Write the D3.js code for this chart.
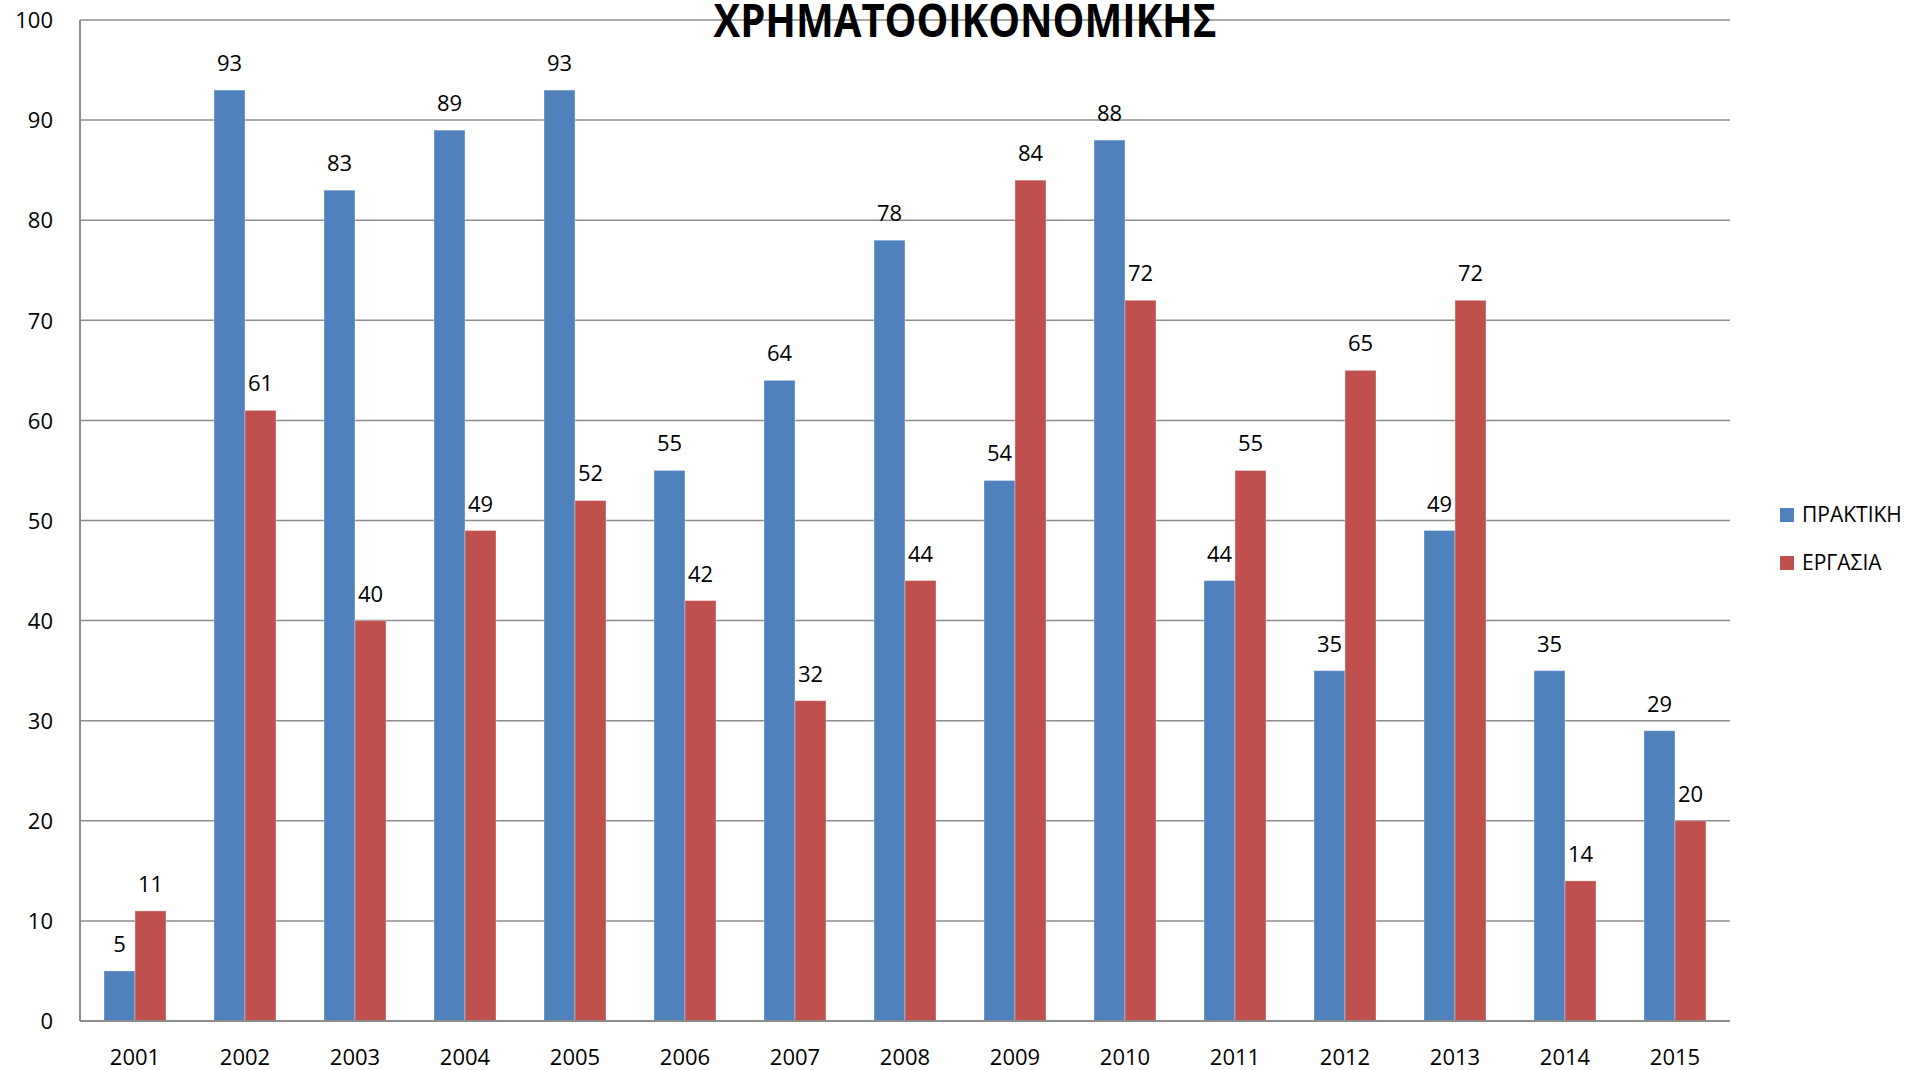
<!DOCTYPE html>
<html>
<head>
<meta charset="utf-8">
<script src="https://cdn.jsdelivr.net/npm/d3@7"></script>
<style>
  html, body { margin: 0; padding: 0; background: #fff; }
  svg { display: block; }
  text { font-family: "Open Sans", "DejaVu Sans", sans-serif; fill: #000; }
</style>
</head>
<body>
<script>
const title = "ΧΡΗΜΑΤΟΟΙΚΟΝΟΜΙΚΗΣ";
const years = ["2001","2002","2003","2004","2005","2006","2007","2008","2009","2010","2011","2012","2013","2014","2015"];
const seriesNames = ["ΠΡΑΚΤΙΚΗ", "ΕΡΓΑΣΙΑ"];
const praktiki = [5, 93, 83, 89, 93, 55, 64, 78, 54, 88, 44, 35, 49, 35, 29];
const ergasia  = [11, 61, 40, 49, 52, 42, 32, 44, 84, 72, 55, 65, 72, 14, 20];
const seriesColors = ["#4F81BD", "#C0504D"];
const yTicks = [0, 10, 20, 30, 40, 50, 60, 70, 80, 90, 100];

const W = 1917, H = 1070;
const plot = { left: 80, right: 1730, top: 20, bottom: 1021 };

const svg = d3.select("body").append("svg").attr("width", W).attr("height", H);

const y = d3.scaleLinear().domain([0, 100]).range([plot.bottom, plot.top]);
const pad = 48 / 110;
const x = d3.scaleBand().domain(years).range([plot.left, plot.right])
  .paddingInner(pad).paddingOuter(pad / 2);
const xs = d3.scaleBand().domain(seriesNames).range([0, x.bandwidth()]);

// horizontal gridlines
svg.append("g").selectAll("line").data(yTicks.filter(d => d > 0)).join("line")
  .attr("x1", plot.left).attr("x2", plot.right)
  .attr("y1", d => y(d)).attr("y2", d => y(d))
  .attr("stroke", "#8c8c8c").attr("stroke-width", 1.5);

// y axis labels
const yAxis = d3.axisLeft(y).tickValues(yTicks).tickSize(0).tickPadding(27);
const gy = svg.append("g").attr("transform", `translate(${plot.left},0)`).call(yAxis);
gy.select(".domain").remove();
gy.selectAll("text").attr("font-size", 22).attr("font-family", "Open Sans").attr("fill", "#000").attr("dy", "0.35em");

// bars
const rows = years.map((yr, i) => ({ year: yr, values: [praktiki[i], ergasia[i]] }));
const groups = svg.append("g").selectAll("g").data(rows).join("g")
  .attr("transform", d => `translate(${x(d.year)},0)`);

groups.selectAll("rect").data(d => d.values.map((v, k) => ({ v, k }))).join("rect")
  .attr("x", d => xs(seriesNames[d.k]))
  .attr("y", d => y(d.v))
  .attr("width", xs.bandwidth())
  .attr("height", d => y(0) - y(d.v))
  .attr("fill", d => seriesColors[d.k])
  .attr("stroke", "rgba(255,255,255,0.35)").attr("stroke-width", 1);

groups.selectAll("text.val").data(d => d.values.map((v, k) => ({ v, k }))).join("text")
  .attr("class", "val")
  .attr("x", d => xs(seriesNames[d.k]) + xs.bandwidth() / 2)
  .attr("y", d => y(d.v) - 19)
  .attr("text-anchor", "middle")
  .attr("font-size", 22)
  .text(d => d.v);

// axes lines
svg.append("line").attr("x1", plot.left).attr("x2", plot.left)
  .attr("y1", plot.top).attr("y2", plot.bottom)
  .attr("stroke", "#8c8c8c").attr("stroke-width", 2);
svg.append("line").attr("x1", plot.left).attr("x2", plot.right)
  .attr("y1", plot.bottom).attr("y2", plot.bottom)
  .attr("stroke", "#8c8c8c").attr("stroke-width", 2);

// x axis labels
const xAxis = d3.axisBottom(x).tickSize(0).tickPadding(0);
const gx = svg.append("g").attr("transform", `translate(0,${plot.bottom})`).call(xAxis);
gx.select(".domain").remove();
gx.selectAll("text").attr("font-size", 22).attr("font-family", "Open Sans").attr("fill", "#000")
  .attr("dy", null).attr("y", 44);

// title
svg.append("text")
  .attr("x", 965).attr("y", 37)
  .attr("text-anchor", "middle")
  .attr("font-size", 46).attr("font-weight", "bold")
  .attr("textLength", 503).attr("lengthAdjust", "spacingAndGlyphs")
  .text(title);

// legend
const legend = svg.append("g").selectAll("g").data(seriesNames).join("g")
  .attr("transform", (d, i) => `translate(1780,${508 + i * 48})`);
legend.append("rect").attr("width", 14).attr("height", 14)
  .attr("fill", (d, i) => seriesColors[i]);
legend.append("text").attr("x", 22).attr("y", 14)
  .attr("font-size", 21).text(d => d);
</script>
</body>
</html>
